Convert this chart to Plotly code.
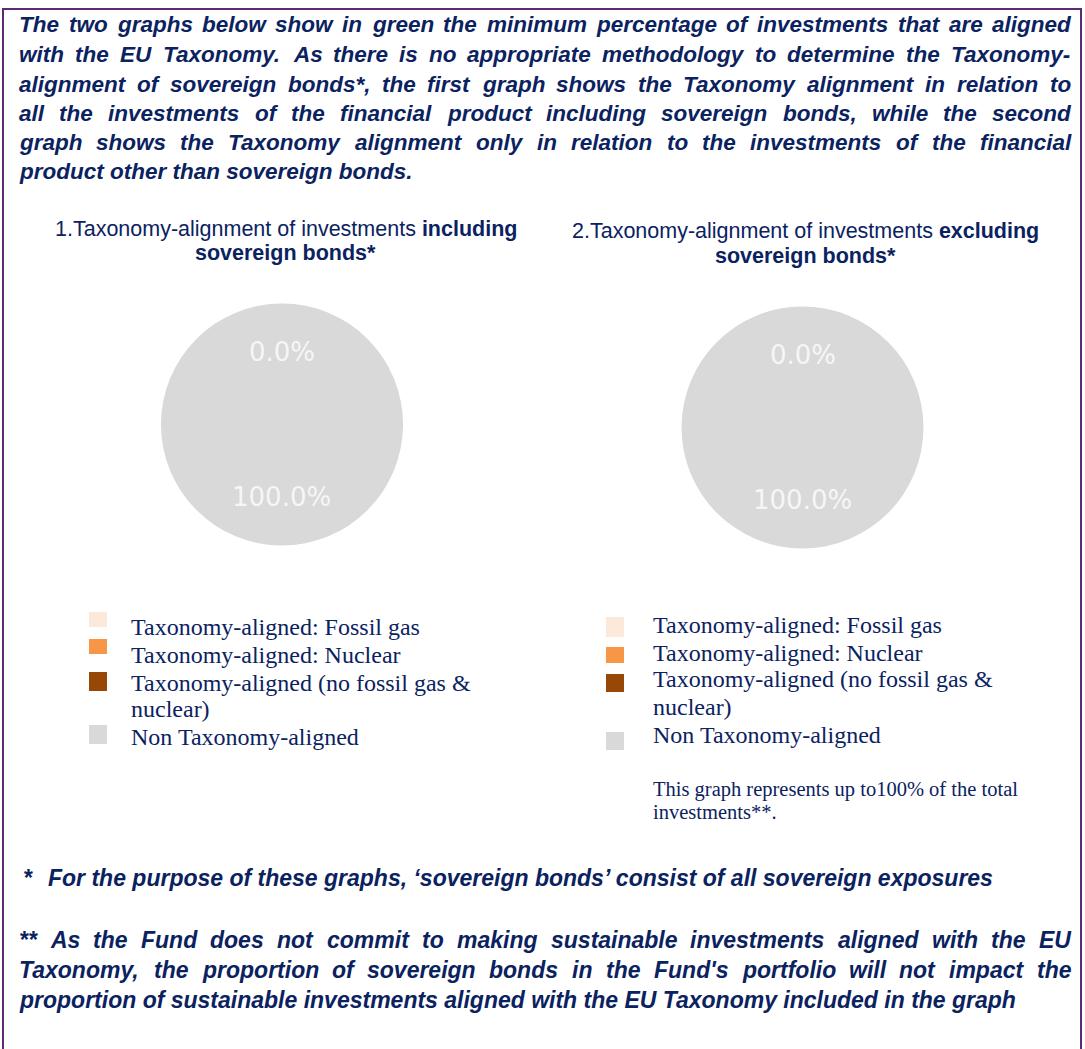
import math
import plotly.graph_objects as go

# ---- data -------------------------------------------------------------
categories = [
    "Taxonomy-aligned: Fossil gas",
    "Taxonomy-aligned: Nuclear",
    "Taxonomy-aligned (no fossil gas &amp; nuclear)",
    "Non Taxonomy-aligned",
]
values_incl_sovereign = [0.0, 0.0, 0.0, 100.0]
values_excl_sovereign = [0.0, 0.0, 0.0, 100.0]
slice_colors = ["#FDE9D9", "#F79646", "#974706", "#D9D9D9"]

intro_lines = [
    "The two graphs below show in green the minimum percentage of investments that are aligned",
    "with the EU Taxonomy. As there is no appropriate methodology to determine the Taxonomy-",
    "alignment of sovereign bonds*, the first graph shows the Taxonomy alignment in relation to",
    "all the investments of the financial product including sovereign bonds, while the second",
    "graph shows the Taxonomy alignment only in relation to the investments of the financial",
    "product other than sovereign bonds.",
]
note1_mark = "*"
note1_text = "For the purpose of these graphs, \u2018sovereign bonds\u2019 consist of all sovereign exposures"
note2_lines = [
    "** As the Fund does not commit to making sustainable investments aligned with the EU",
    "Taxonomy, the proportion of sovereign bonds in the Fund's portfolio will not impact the",
    "proportion of sustainable investments aligned with the EU Taxonomy included in the graph",
]
legend_lines = [
    ["Taxonomy-aligned: Fossil gas"],
    ["Taxonomy-aligned: Nuclear"],
    ["Taxonomy-aligned (no fossil gas &amp;", "nuclear)"],
    ["Non Taxonomy-aligned"],
]
coverage_note = ["This graph represents up to100% of the total", "investments**."]

# ---- page geometry -----------------------------------------------------
W, H = 1085, 1049
NAVY = "#0B2260"
SANS = "Liberation Sans, Arial, sans-serif"
SERIF = "Liberation Serif, Times New Roman, serif"


def px(x):
    return x / W


def py(y):
    return 1 - y / H


# Arial Bold advance widths (1/1000 em) used to justify the bold italic text
ADV = {' ': 278, '*': 389, ',': 278, '.': 278, '-': 333, "'": 238,
       '\u2018': 278, '\u2019': 278, 'A': 722, 'E': 667, 'F': 611, 'T': 611, 'U': 722,
       'a': 556, 'b': 611, 'c': 556, 'd': 611, 'e': 556, 'f': 333, 'g': 611, 'h': 611,
       'i': 278, 'j': 278, 'k': 556, 'l': 278, 'm': 889, 'n': 611, 'o': 611, 'p': 611,
       'q': 611, 'r': 389, 's': 556, 't': 333, 'u': 611, 'v': 556, 'w': 778, 'x': 556,
       'y': 556, 'z': 500}


def text_width(s, size):
    return sum(ADV.get(c, 600) for c in s) * size / 1000.0


annotations = []
shapes = []


def bold_italic(text, x, y, size, anchor="left"):
    annotations.append(dict(
        text=f"<b><i>{text}</i></b>", x=px(x), y=py(y), xref="paper", yref="paper",
        xanchor=anchor, yanchor="middle", showarrow=False, borderpad=0,
        font=dict(family=SANS, size=size, color=NAVY)))


def justified(line, x0, x1, y, size):
    words = line.split(" ")
    widths = [text_width(w, size) for w in words]
    gap = (x1 - x0 - sum(widths)) / (len(words) - 1)
    x = x0
    for w, wd in zip(words, widths):
        bold_italic(w, x, y, size)
        x += wd + gap


# intro paragraph: justified, last line ragged
INTRO_SIZE = 22.5
intro_y = [24.5, 54, 84, 113, 142.5, 172]
for i, (line, y) in enumerate(zip(intro_lines, intro_y)):
    if i < len(intro_lines) - 1:
        justified(line, 18, 1070, y, INTRO_SIZE)
    else:
        bold_italic(line, 18, y, INTRO_SIZE)

# footnotes
NOTE_SIZE = 23
bold_italic(note1_mark, 22, 878, NOTE_SIZE)
bold_italic(note1_text, 47, 878, NOTE_SIZE)
note2_y = [940, 970, 1000]
for i, (line, y) in enumerate(zip(note2_lines, note2_y)):
    if i < len(note2_lines) - 1:
        justified(line, 18, 1070, y, NOTE_SIZE)
    else:
        bold_italic(line, 18, y, NOTE_SIZE)

# ---- pies ----------------------------------------------------------------
pies = [
    dict(values=values_incl_sovereign, cx=282, cy=424.5, r=121,
         title=["1.Taxonomy-alignment of investments <b>including</b>", "<b>sovereign bonds*</b>"],
         tx=285.5, ty=[229, 253]),
    dict(values=values_excl_sovereign, cx=802.5, cy=427.5, r=121,
         title=["2.Taxonomy-alignment of investments <b>excluding</b>", "<b>sovereign bonds*</b>"],
         tx=805, ty=[231, 255.5]),
]

fig = go.Figure()
for p in pies:
    fig.add_trace(go.Pie(
        labels=categories, values=p["values"], sort=False, direction="clockwise",
        rotation=0, marker=dict(colors=slice_colors, line=dict(width=0)),
        textinfo="none", hoverinfo="label+percent", showlegend=False,
        domain=dict(x=[px(p["cx"] - p["r"]), px(p["cx"] + p["r"])],
                    y=[py(p["cy"] + p["r"]), py(p["cy"] - p["r"])]),
    ))
    for t, y in zip(p["title"], p["ty"]):
        annotations.append(dict(
            text=t, x=px(p["tx"]), y=py(y), xref="paper", yref="paper",
            xanchor="center", yanchor="middle", showarrow=False, borderpad=0,
            font=dict(family=SANS, size=21.5, color=NAVY)))
    # percentage labels: aligned share (all aligned slices together) and non-aligned share
    total = sum(p["values"])
    groups = [sum(p["values"][:3]), p["values"][3]]
    start = 0.0
    for g in groups:
        mid = (start + g / 2) / total
        theta = math.radians(90 - 360 * mid)
        lx = p["cx"] + 0.6 * p["r"] * math.cos(theta)
        ly = p["cy"] - 0.6 * p["r"] * math.sin(theta)
        annotations.append(dict(
            text=f"{100 * g / total:.1f}%", x=px(lx), y=py(ly), xref="paper", yref="paper",
            xanchor="center", yanchor="middle", showarrow=False, borderpad=0,
            font=dict(family="DejaVu Sans", size=26, color="#F6F6F6")))
        start += g

# ---- legends -----------------------------------------------------------
legend_specs = [
    dict(sx=89, tx=130,
         boxes=[(612, 627), (639, 654), (672, 691), (725, 744)],
         text_y=[[627], [655], [683, 709], [737]]),
    dict(sx=606, tx=652,
         boxes=[(617, 637), (647, 663), (674, 692), (732, 750)],
         text_y=[[625], [653], [679, 707], [735]]),
]
for spec in legend_specs:
    for color, (y0, y1), lines, ys in zip(slice_colors, spec["boxes"], legend_lines, spec["text_y"]):
        shapes.append(dict(type="rect", xref="paper", yref="paper",
                           x0=px(spec["sx"]), x1=px(spec["sx"] + 18), y0=py(y1), y1=py(y0),
                           fillcolor=color, line=dict(width=0)))
        for t, y in zip(lines, ys):
            annotations.append(dict(
                text=t, x=px(spec["tx"]), y=py(y), xref="paper", yref="paper",
                xanchor="left", yanchor="middle", showarrow=False, borderpad=0,
                font=dict(family=SERIF, size=24, color=NAVY)))

for t, y in zip(coverage_note, [789, 812]):
    annotations.append(dict(
        text=t, x=px(652), y=py(y), xref="paper", yref="paper",
        xanchor="left", yanchor="middle", showarrow=False, borderpad=0,
        font=dict(family=SERIF, size=20.5, color=NAVY)))

# frame around the section
shapes.append(dict(type="rect", xref="paper", yref="paper",
                   x0=px(3), x1=px(1081), y0=py(1070), y1=py(9),
                   line=dict(color="#5E2A73", width=2), fillcolor="rgba(0,0,0,0)"))

fig.update_layout(
    width=W, height=H, margin=dict(l=0, r=0, t=0, b=0),
    paper_bgcolor="white", plot_bgcolor="white",
    annotations=annotations, shapes=shapes,
)

fig.write_html("out.html", config={"displayModeBar": False})
